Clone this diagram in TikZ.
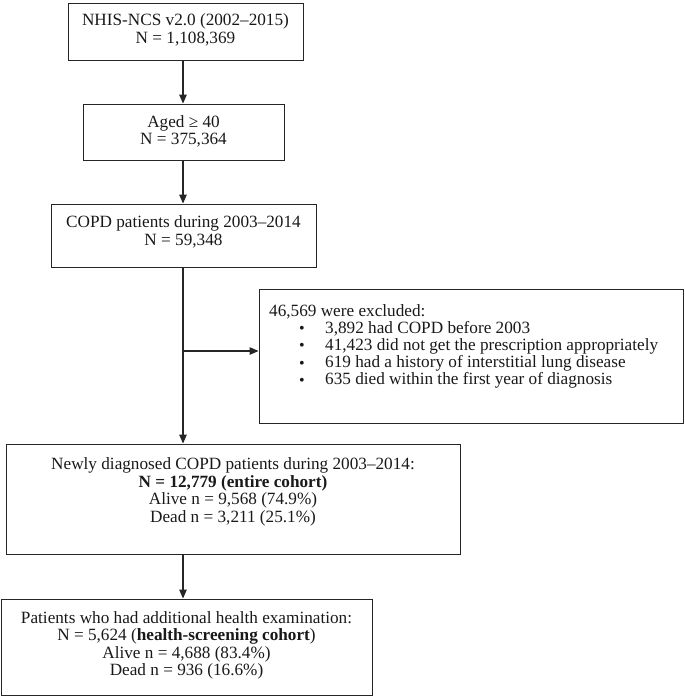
\documentclass[tikz,border=0pt]{standalone}
\usepackage{fontspec}
\setmainfont{Liberation Serif}
\usetikzlibrary{arrows.meta}
\newcommand\bul{\makebox[26pt][l]{\raisebox{-0.6pt}{\fontsize{16}{16}\selectfont •}}}
\begin{document}
\begin{tikzpicture}[x=1pt,y=-1pt,
  box/.style={draw=black!85,line width=0.9pt,inner sep=0pt,rectangle},
  txt/.style={align=center,inner sep=0pt,text=black!90,font=\fontsize{17.2}{17.5}\selectfont},
  ltxt/.style={anchor=base west,inner sep=0pt,text=black!90,font=\fontsize{17.2}{17.5}\selectfont},
  arr/.style={draw=black!85,line width=1.2pt,-{Triangle[length=9pt,width=7.5pt]}}]
\useasboundingbox (0,0) rectangle (685,696);
% boxes
\node[box,minimum width=235pt,minimum height=57pt] (b1) at (185.5,31.5) {};
\node[box,minimum width=201pt,minimum height=56pt] (b2) at (183.5,132) {};
\node[box,minimum width=265pt,minimum height=63pt] (b3) at (183.5,235.5) {};
\node[box,minimum width=424pt,minimum height=134pt] (b4) at (471,356) {};
\node[box,minimum width=454pt,minimum height=110pt] (b5) at (233,499) {};
\node[box,minimum width=371pt,minimum height=96pt] (b6) at (186.5,647) {};
% texts
\node[txt] (t1) at (185.5,30) {NHIS-NCS v2.0 (2002–2015)\\N = 1,108,369};
\node[txt] (t2) at (183.5,131.5) {Aged ≥ 40\\N = 375,364};
\node[txt] (t3) at (183.5,232) {COPD patients during 2003–2014\\N = 59,348};
\node[txt] (t5) at (233,492) {Newly diagnosed COPD patients during 2003–2014:\\\textbf{N = 12,779 (entire cohort)}\\Alive n = 9,568 (74.9\%)\\Dead n = 3,211 (25.1\%)};
\node[txt] (t6) at (186.5,645.5) {Patients who had additional health examination:\\N = 5,624 (\textbf{health-screening cohort})\\Alive n = 4,688 (83.4\%)\\Dead n = 936 (16.6\%)};
\node[ltxt] (e0) at (269,316) {46,569 were excluded:};
\node[ltxt] (e1) at (299,333) {\bul 3,892 had COPD before 2003};
\node[ltxt] (e2) at (299,350.3) {\bul 41,423 did not get the prescription appropriately};
\node[ltxt] (e3) at (299,367.6) {\bul 619 had a history of interstitial lung disease};
\node[ltxt] (e4) at (299,384.9) {\bul 635 died within the first year of diagnosis};
% connectors
\coordinate (sp) at (183,0);
\coordinate (br) at (183,351);
\draw[arr] (b1.south -| sp) -- (b2.north -| sp);
\draw[arr] (b2.south -| sp) -- (b3.north -| sp);
\draw[arr] (b3.south -| sp) -- (b5.north -| sp);
\draw[arr] (br) -- (br -| b4.west);
\draw[arr] (b5.south -| sp) -- (b6.north -| sp);
\end{tikzpicture}
\end{document}
